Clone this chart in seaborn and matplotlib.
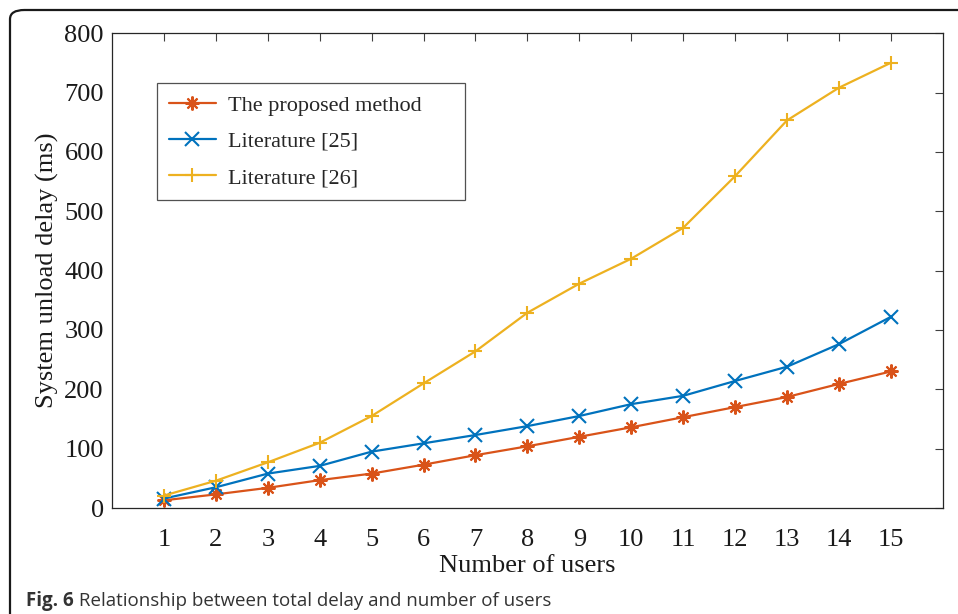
import matplotlib
matplotlib.use("Agg")
import matplotlib.pyplot as plt
from matplotlib.patches import FancyBboxPatch
import seaborn as sns
import pandas as pd

# Delay measurements per number of users
users = list(range(1, 16))
proposed = [13, 23, 34, 47, 58, 73, 89, 104, 120, 136, 153, 170, 187, 209, 230]
lit25 = [16, 35, 58, 71, 95, 109, 123, 138, 155, 175, 189, 214, 238, 276, 322]
lit26 = [21, 46, 77, 110, 155, 210, 264, 329, 378, 420, 472, 559, 653, 708, 750]

series_names = ["The proposed method", "Literature [25]", "Literature [26]"]
series_values = [proposed, lit25, lit26]
series_colors = ["#D95319", "#0072BD", "#EDB120"]
series_markers = [(8, 2, 0), "x", "+"]

y_ticks = list(range(0, 801, 100))
x_label = "Number of users"
y_label = "System unload delay (ms)"
caption_bold = "Fig. 6"
caption_text = " Relationship between total delay and number of users"

sns.set_theme(style="white")
plt.rcParams["font.family"] = ["Liberation Serif", "DejaVu Serif"]
plt.rcParams["mathtext.default"] = "regular"

fig = plt.figure(figsize=(9.58, 6.14), dpi=100)
ax = fig.add_axes([0.117, 0.1726, 0.867, 0.7734])

for name, vals, col, mk in zip(series_names, series_values, series_colors, series_markers):
    df = pd.DataFrame({"users": users, "delay": vals})
    sns.lineplot(data=df, x="users", y="delay", ax=ax, color=col, marker=mk,
                 markersize=10, markeredgewidth=1.5, linewidth=1.6,
                 markeredgecolor=col, label=name)

ax.set_xlim(0, 16)
ax.set_ylim(0, 800)
ax.set_xticks(users)
ax.set_yticks(y_ticks)
ax.tick_params(direction="in", length=6, width=0.8, color="#404040",
               top=True, right=True, labelsize=19, labelcolor="#1a1a1a")
ax.tick_params(axis="x", pad=15)
ax.tick_params(axis="y", pad=6)
for sp in ax.spines.values():
    sp.set_color("#262626")
    sp.set_linewidth(0.9)
ax.set_xlabel(x_label, fontsize=19, color="#1a1a1a", labelpad=3)
ax.set_ylabel(y_label, fontsize=19, color="#1a1a1a", labelpad=4)

leg = ax.legend(loc="upper left", bbox_to_anchor=(0.054, 0.895, 0.3706, 0),
                mode="expand", fontsize=16,
                frameon=True, fancybox=False, edgecolor="#262626",
                handlelength=2.1, handletextpad=0.55, labelspacing=0.7,
                borderpad=0.55, borderaxespad=0)
leg.get_frame().set_linewidth(0.9)

# Rounded outer frame around the figure panel
frame = FancyBboxPatch((10 / 958, -0.2), 1.2, 1.2 - 10 / 614,
                       boxstyle="round,pad=0,rounding_size=0.015",
                       transform=fig.transFigure, fill=False,
                       edgecolor="#1a1a1a", linewidth=1.6, clip_on=False)
fig.patches.append(frame)

cap_font = ["Open Sans", "DejaVu Sans"]
t = fig.text(26 / 958, 1 - 606 / 614, caption_bold, fontsize=13.5, fontweight="bold",
             family=cap_font, color="#333333", va="baseline")
fig.canvas.draw()
bb = t.get_window_extent()
fig.text(bb.x1 / 958, 1 - 606 / 614, caption_text, fontsize=13.5,
         family=cap_font, color="#333333", va="baseline")

fig.savefig("out.png", dpi=100)
